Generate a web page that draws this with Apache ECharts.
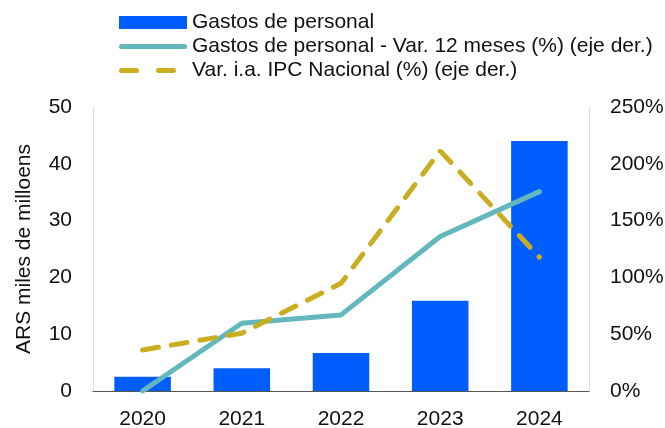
<!DOCTYPE html>
<html>
<head>
<meta charset="utf-8">
<script src="https://cdn.jsdelivr.net/npm/echarts@6/dist/echarts.min.js"></script>
<style>
  html, body { margin: 0; padding: 0; background: #fff; }
  #main { width: 665px; height: 428px; }
</style>
</head>
<body>
<div id="main"></div>
<script>
var years = ['2020', '2021', '2022', '2023', '2024'];
var gastos = [2.5, 4.0, 6.7, 15.9, 44.0];
var gastosVar = [0, 59.6, 67, 136, 175.5];
var ipcVar = [36.1, 50.9, 94.8, 211.4, 117.8];

var font = 'Liberation Sans';
// legend icons: invisible moveTo points fix the 68x13 box, the stroke is 5px tall
var solidIcon = 'path://M0,0 M0,13 M2.5,4 h63 a2.5,2.5 0 0 1 0,5 h-63 a2.5,2.5 0 0 1 0,-5 z';
var dashIcon = 'path://M0,0 M68,13 M2.5,4 h15 a2.5,2.5 0 0 1 0,5 h-15 a2.5,2.5 0 0 1 0,-5 z ' +
  'M39.5,4 h15 a2.5,2.5 0 0 1 0,5 h-15 a2.5,2.5 0 0 1 0,-5 z';

var chart = echarts.init(document.getElementById('main'));

chart.setOption({
  animation: false,
  textStyle: { fontFamily: font },
  legend: {
    orient: 'vertical',
    left: 114,
    top: 7,
    itemWidth: 68,
    itemHeight: 13,
    itemGap: 3,
    textStyle: { fontSize: 21, color: '#111', fontFamily: font },
    data: [
      { name: 'Gastos de personal', icon: 'rect' },
      { name: 'Gastos de personal - Var. 12 meses (%) (eje der.)', icon: solidIcon },
      { name: 'Var. i.a. IPC Nacional (%) (eje der.)', icon: dashIcon }
    ]
  },
  grid: { left: 93, right: 76, top: 107, bottom: 37, outerBoundsMode: 'none' },
  xAxis: {
    type: 'category',
    data: years,
    axisTick: { show: false },
    axisLine: { lineStyle: { color: '#555', width: 1 } },
    axisLabel: { fontSize: 21, color: '#111', margin: 18 }
  },
  yAxis: [
    {
      type: 'value',
      min: 0, max: 50, interval: 10,
      name: 'ARS miles de milloens',
      nameLocation: 'middle',
      nameGap: 58,
      nameTextStyle: { fontSize: 21, color: '#111' },
      axisLine: { show: true, lineStyle: { color: '#ddd' } },
      axisTick: { show: false },
      splitLine: { show: false },
      axisLabel: { fontSize: 21, color: '#111', margin: 21 }
    },
    {
      type: 'value',
      min: 0, max: 250, interval: 50,
      position: 'right',
      axisLine: { show: true, lineStyle: { color: '#ddd' } },
      axisTick: { show: false },
      splitLine: { show: false },
      axisLabel: { fontSize: 21, color: '#111', margin: 21, formatter: '{value}%' }
    }
  ],
  series: [
    {
      name: 'Gastos de personal',
      type: 'bar',
      data: gastos,
      barWidth: '57%',
      itemStyle: { color: '#005EFF' }
    },
    {
      name: 'Gastos de personal - Var. 12 meses (%) (eje der.)',
      type: 'line',
      yAxisIndex: 1,
      data: gastosVar,
      symbol: 'none',
      itemStyle: { color: '#62B8BC' },
      lineStyle: { color: '#62B8BC', width: 5, cap: 'round' }
    },
    {
      name: 'Var. i.a. IPC Nacional (%) (eje der.)',
      type: 'line',
      yAxisIndex: 1,
      data: ipcVar,
      symbol: 'none',
      itemStyle: { color: '#C9AE22' },
      lineStyle: { color: '#C9AE22', width: 5, type: [16, 13], cap: 'round' }
    }
  ]
});
</script>
</body>
</html>
